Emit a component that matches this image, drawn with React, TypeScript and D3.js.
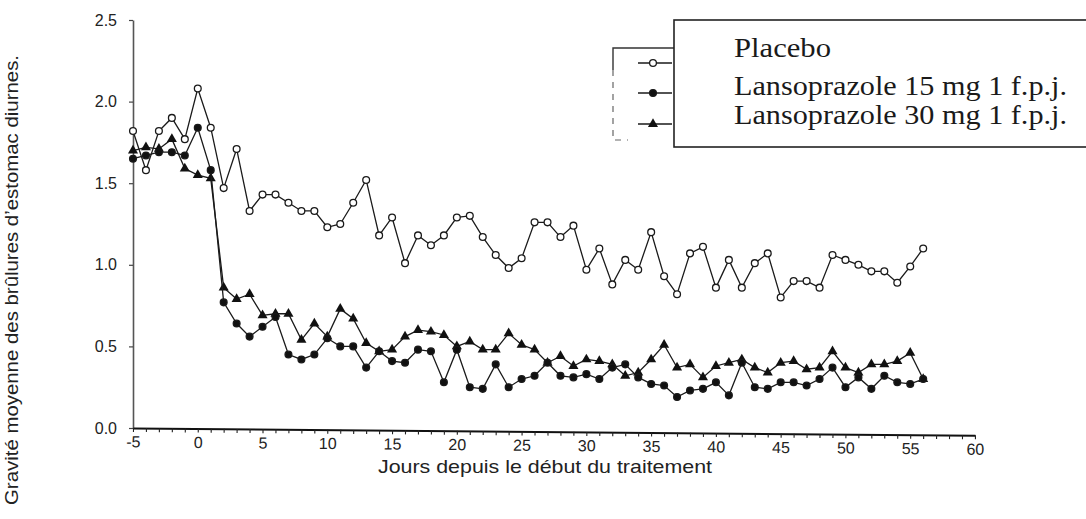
import React from "react";
import * as d3 from "d3";

// days since treatment start (-5 .. 56)
const days = d3.range(-5, 57);

const placebo = [
    1.82, 1.58, 1.82, 1.90, 1.77, 2.08, 1.84, 1.47, 1.71, 1.33,
    1.43, 1.43, 1.38, 1.33, 1.33, 1.23, 1.25, 1.38, 1.52, 1.18,
    1.29, 1.01, 1.18, 1.12, 1.18, 1.29, 1.30, 1.17, 1.06, 0.98,
    1.04, 1.26, 1.26, 1.17, 1.24, 0.97, 1.10, 0.88, 1.03, 0.97,
    1.20, 0.93, 0.82, 1.07, 1.11, 0.86, 1.03, 0.86, 1.01, 1.07,
    0.80, 0.90, 0.90, 0.86, 1.06, 1.03, 1.00, 0.96, 0.96, 0.89,
    0.99, 1.10
];

const lanso15 = [
    1.65, 1.67, 1.69, 1.69, 1.67, 1.84, 1.58, 0.77, 0.64, 0.56,
    0.62, 0.68, 0.45, 0.42, 0.45, 0.55, 0.50, 0.50, 0.37, 0.47,
    0.41, 0.40, 0.48, 0.47, 0.28, 0.48, 0.25, 0.24, 0.39, 0.25,
    0.30, 0.32, 0.40, 0.32, 0.31, 0.33, 0.30, 0.37, 0.39, 0.31,
    0.27, 0.26, 0.19, 0.23, 0.24, 0.28, 0.20, 0.40, 0.25, 0.24,
    0.28, 0.28, 0.26, 0.30, 0.37, 0.25, 0.31, 0.24, 0.32, 0.28,
    0.27, 0.30
];

const lanso30 = [
    1.70, 1.72, 1.71, 1.77, 1.59, 1.55, 1.53, 0.86, 0.79, 0.82,
    0.69, 0.70, 0.70, 0.54, 0.64, 0.56, 0.73, 0.67, 0.52, 0.47,
    0.48, 0.56, 0.60, 0.59, 0.57, 0.50, 0.53, 0.48, 0.48, 0.58,
    0.51, 0.48, 0.40, 0.44, 0.38, 0.42, 0.41, 0.39, 0.32, 0.34,
    0.42, 0.51, 0.37, 0.39, 0.31, 0.38, 0.40, 0.42, 0.37, 0.34,
    0.40, 0.41, 0.36, 0.37, 0.47, 0.37, 0.34, 0.39, 0.39, 0.41,
    0.46, 0.30
];

const yTicks = [0, 0.5, 1.0, 1.5, 2.0, 2.5];
const xTicks = d3.range(-5, 61);
const legendLabels = ["Placebo", "Lansoprazole 15 mg 1 f.p.j.", "Lansoprazole 30 mg 1 f.p.j."];

const yTitle = "Gravité moyenne des brûlures d’estomac diurnes.";
const xTitle = "Jours depuis le début du traitement";

const W = 1086;
const H = 519;

const App = () => {
    const svgRef = React.useRef<SVGSVGElement | null>(null);

    React.useEffect(() => {
        drawChart();
    }, []);

    const drawChart = () => {
        if (!svgRef.current) return;
        const svg = d3.select(svgRef.current);
        svg.selectAll("*").remove();

        const x = d3.scaleLinear().domain([-5, 60]).range([133, 975]);
        const y = d3.scaleLinear().domain([0, 2.5]).range([428, 20]);
        const sans = "'Liberation Sans', Arial, sans-serif";

        // y axis
        const yAxis = svg.append("g")
            .attr("transform", "translate(133,0)")
            .call(d3.axisLeft(y).tickValues(yTicks).tickFormat(d3.format(".1f")).tickSize(4).tickSizeOuter(0).tickPadding(12));
        yAxis.select(".domain").attr("stroke", "#555").attr("stroke-width", 1.6);
        yAxis.selectAll(".tick line").attr("stroke", "#444").attr("stroke-width", 1.2);
        yAxis.selectAll("text").style("font-family", sans).style("font-size", "16px").attr("fill", "#222");

        // x axis (slightly tilted like the scan)
        const xAxis = svg.append("g")
            .attr("transform", "translate(0,428) rotate(0.5 133 0)")
            .call(d3.axisBottom(x).tickValues(xTicks)
                .tickFormat(d => (+d % 5 === 0 ? String(d) : ""))
                .tickSize(4).tickSizeOuter(0).tickPadding(4));
        xAxis.select(".domain").attr("stroke", "#111").attr("stroke-width", 2);
        xAxis.selectAll(".tick line").attr("stroke", "#222").attr("stroke-width", 1.1);
        xAxis.selectAll("text").style("font-family", sans).style("font-size", "16px").attr("fill", "#222");

        // axis titles
        svg.append("text")
            .attr("transform", "translate(18,280) rotate(-90)")
            .attr("text-anchor", "middle")
            .attr("textLength", 450)
            .attr("lengthAdjust", "spacingAndGlyphs")
            .style("font-family", sans)
            .style("font-size", "19px")
            .attr("fill", "#222")
            .text(yTitle);

        svg.append("text")
            .attr("x", 545)
            .attr("y", 473)
            .attr("text-anchor", "middle")
            .attr("textLength", 334)
            .attr("lengthAdjust", "spacingAndGlyphs")
            .style("font-family", sans)
            .style("font-size", "19px")
            .attr("fill", "#222")
            .text(xTitle);

        const line = d3.line<number>()
            .x((_, i) => x(days[i]))
            .y(d => y(d));

        const series = [
            { values: lanso30, marker: "triangle" },
            { values: lanso15, marker: "dot" },
            { values: placebo, marker: "open" },
        ];

        const triangle = d3.symbol().type(d3.symbolTriangle).size(44)();

        series.forEach(s => {
            svg.append("path")
                .datum(s.values)
                .attr("fill", "none")
                .attr("stroke", "#1a1a1a")
                .attr("stroke-width", 1.3)
                .attr("d", line);

            const g = svg.append("g");
            if (s.marker === "triangle") {
                g.selectAll("path")
                    .data(s.values)
                    .join("path")
                    .attr("d", triangle)
                    .attr("transform", (d, i) => `translate(${x(days[i])},${y(d)})`)
                    .attr("fill", "#111");
            } else {
                g.selectAll("circle")
                    .data(s.values)
                    .join("circle")
                    .attr("cx", (_, i) => x(days[i]))
                    .attr("cy", d => y(d))
                    .attr("r", 3.4)
                    .attr("fill", s.marker === "open" ? "#fff" : "#111")
                    .attr("stroke", "#1a1a1a")
                    .attr("stroke-width", 1.3);
            }
        });

        // legend bracket behind the box
        svg.append("path")
            .attr("d", "M674,48 H613 V70")
            .attr("fill", "none")
            .attr("stroke", "#333")
            .attr("stroke-width", 1.4);
        svg.append("path")
            .attr("d", "M613,70 V140 H628")
            .attr("fill", "none")
            .attr("stroke", "#666")
            .attr("stroke-width", 1.2)
            .attr("stroke-dasharray", "6,6");

        const markerY = [63, 93, 124];
        legendLabels.forEach((_, i) => {
            svg.append("line")
                .attr("x1", 638).attr("x2", 672)
                .attr("y1", markerY[i]).attr("y2", markerY[i])
                .attr("stroke", "#1a1a1a").attr("stroke-width", 1.3);
            if (i === 2) {
                svg.append("path")
                    .attr("d", triangle)
                    .attr("transform", `translate(653,${markerY[i]})`)
                    .attr("fill", "#111");
            } else {
                svg.append("circle")
                    .attr("cx", 653).attr("cy", markerY[i]).attr("r", 3.4)
                    .attr("fill", i === 0 ? "#fff" : "#111")
                    .attr("stroke", "#1a1a1a").attr("stroke-width", 1.3);
            }
        });

        // legend box
        svg.append("rect")
            .attr("x", 674).attr("y", 20)
            .attr("width", 430).attr("height", 127)
            .attr("fill", "#fff")
            .attr("stroke", "#222")
            .attr("stroke-width", 1.6);

        const textY = [57, 95, 124];
        const textLen = [97, 333, 333];
        legendLabels.forEach((label, i) => {
            svg.append("text")
                .attr("x", 734)
                .attr("y", textY[i])
                .attr("textLength", textLen[i])
                .attr("lengthAdjust", "spacingAndGlyphs")
                .style("font-family", "'Liberation Serif', 'Times New Roman', serif")
                .style("font-size", "27px")
                .attr("fill", "#1a1a1a")
                .text(label);
        });
    };

    return (
        <svg
            ref={svgRef}
            width={W}
            height={H}
            style={{ position: "absolute", left: 0, top: 0, background: "#fff" }}
        />
    );
};

export default App;
